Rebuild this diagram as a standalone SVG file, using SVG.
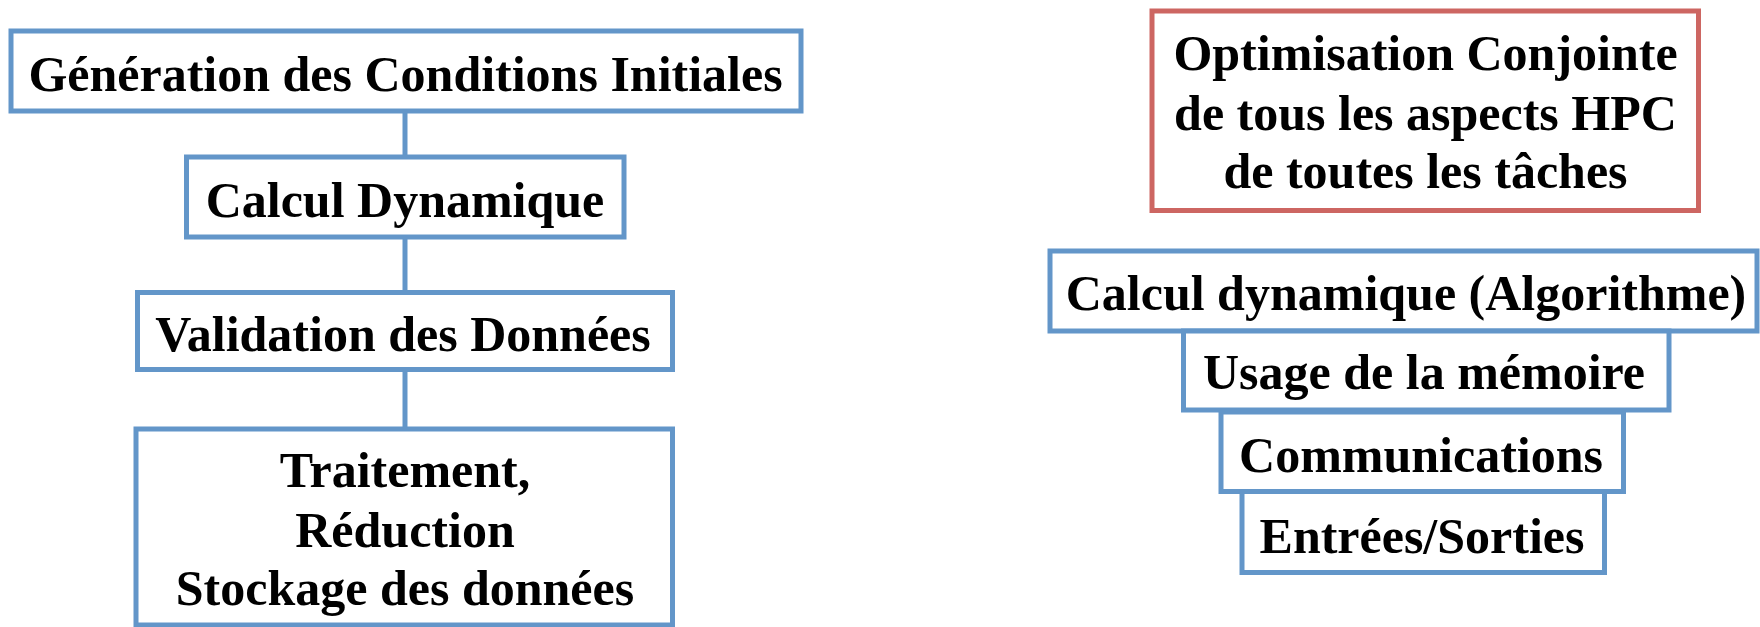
<svg xmlns="http://www.w3.org/2000/svg" width="1760" height="627" viewBox="0 0 1760 627">
<style>
.b{fill:#fff;stroke:#6396c9;stroke-width:5}
.r{fill:#fff;stroke:#cd6662;stroke-width:5}
.t{font-family:"Liberation Serif","Times New Roman",serif;font-weight:bold;font-size:50px;fill:#000;text-anchor:middle}
.c{stroke:#6396c9;stroke-width:5;fill:none}
</style>
<rect width="1760" height="627" fill="#fff"/>
<g id="connectors">
<line class="c" x1="405" y1="111" x2="405" y2="157"/>
<line class="c" x1="405" y1="237" x2="405" y2="292.5"/>
<line class="c" x1="405" y1="369.5" x2="405" y2="429"/>
</g>
<g id="n1"><rect class="b" x="11" y="31" width="790" height="80"/><text class="t" x="405.5" y="91">Génération des Conditions Initiales</text></g>
<g id="n2"><rect class="b" x="186.5" y="157" width="437.5" height="80"/><text class="t" x="405" y="217">Calcul Dynamique</text></g>
<g id="n3"><rect class="b" x="137.5" y="292.5" width="535" height="77"/><text class="t" x="403" y="351">Validation des Données</text></g>
<g id="n4"><rect class="b" x="136" y="429" width="536.5" height="196"/><text class="t" x="405" y="487">Traitement,</text><text class="t" x="405" y="547">Réduction</text><text class="t" x="405" y="605">Stockage des données</text></g>
<g id="n5"><rect class="r" x="1152" y="11" width="546.5" height="199.5"/><text class="t" x="1425.5" y="70">Optimisation Conjointe</text><text class="t" x="1425.5" y="130">de tous les aspects HPC</text><text class="t" x="1425.5" y="188">de toutes les tâches</text></g>
<g id="n6"><rect class="b" x="1050" y="251" width="707" height="80"/><text class="t" x="1406" y="310">Calcul dynamique (Algorithme)</text></g>
<g id="n7"><rect class="b" x="1183.5" y="331" width="485.5" height="79"/><text class="t" x="1424" y="389">Usage de la mémoire</text></g>
<g id="n8"><rect class="b" x="1221" y="412" width="402.5" height="79.5"/><text class="t" x="1421" y="472">Communications</text></g>
<g id="n9"><rect class="b" x="1242" y="491.5" width="362.5" height="81"/><text class="t" x="1422" y="553">Entrées/Sorties</text></g>
</svg>
